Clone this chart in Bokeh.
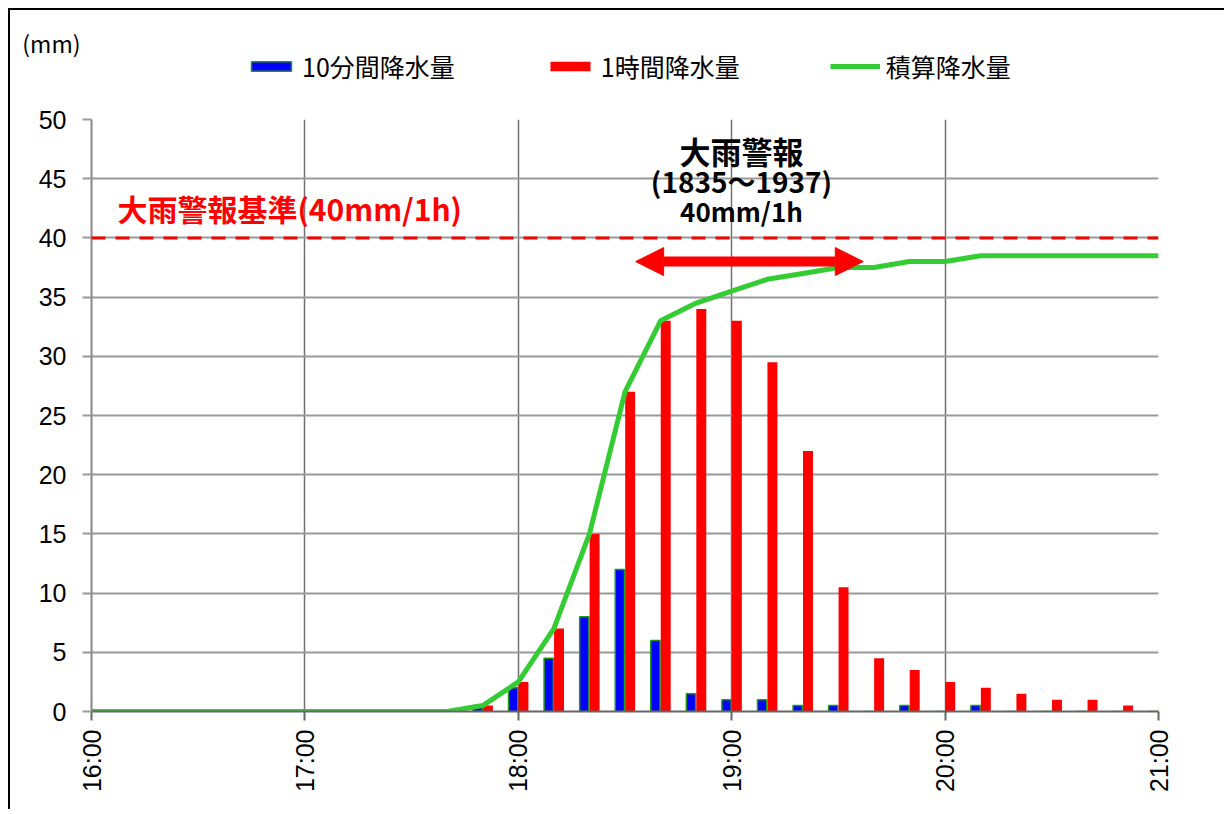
import math
from bokeh.plotting import figure
from bokeh.layouts import column
from bokeh.models import (Range1d, FixedTicker, Span, Label, Arrow, NormalHead,
                          Legend, LegendItem, ColumnDataSource)
from bokeh.transform import dodge
from bokeh.embed import file_html
from bokeh.resources import INLINE

# ---------------- data ----------------
times = ["16:00", "16:10", "16:20", "16:30", "16:40", "16:50",
         "17:00", "17:10", "17:20", "17:30", "17:40", "17:50",
         "18:00", "18:10", "18:20", "18:30", "18:40", "18:50",
         "19:00", "19:10", "19:20", "19:30", "19:40", "19:50",
         "20:00", "20:10", "20:20", "20:30", "20:40", "20:50",
         "21:00"]
rain_10min = [0, 0, 0, 0, 0, 0,
              0, 0, 0, 0, 0, 0.5,
              2, 4.5, 8, 12, 6, 1.5,
              1, 1, 0.5, 0.5, 0, 0.5,
              0, 0.5, 0, 0, 0, 0,
              0]
rain_1h = [0, 0, 0, 0, 0, 0,
           0, 0, 0, 0, 0, 0.5,
           2.5, 7, 15, 27, 33, 34,
           33, 29.5, 22, 10.5, 4.5, 3.5,
           2.5, 2, 1.5, 1, 1, 0.5,
           0.5]
rain_total = [0, 0, 0, 0, 0, 0,
              0, 0, 0, 0, 0, 0.5,
              2.5, 7, 15, 27, 33, 34.5,
              35.5, 36.5, 37, 37.5, 37.5, 38,
              38, 38.5, 38.5, 38.5, 38.5, 38.5,
              38.5]
hour_ticks = ["16:00", "17:00", "18:00", "19:00", "20:00", "21:00"]
y_ticks = [0, 5, 10, 15, 20, 25, 30, 35, 40, 45, 50]
series_names = ["10分間降水量", "1時間降水量", "積算降水量"]
threshold = 40
threshold_label = "大雨警報基準(40mm/1h)"
warning_lines = ["大雨警報", "(1835～1937)", "40mm/1h"]
arrow_times = ["18:33", "19:37"]
arrow_level = 38
unit_label = "(mm)"


def to_min(t):
    h, m = t.split(":")
    return int(h) * 60 + int(m) - 16 * 60


x = [to_min(t) for t in times]
src = ColumnDataSource(dict(x=x, r10=rain_10min, r1h=rain_1h, tot=rain_total))

JP = "Noto Sans CJK JP"
NUM = "Liberation Sans"

BLUE, BLUE_EDGE, RED, GREEN = "#0000ff", "#1a9a1a", "#ff0000", "#33cc33"

# ---------------- header strip (unit + legend) ----------------
# The strip's frame is aligned with the main chart's frame by the column layout.
TOP_H = 100
UNIT_POS = -1042  # strip coordinates: -1000 at the strip's top, -1100 at its bottom
top = figure(frame_width=1067, height=TOP_H, x_range=Range1d(0, 300), y_range=Range1d(-1100, -1000),
             x_axis_type=None, output_backend="svg", toolbar_location=None,
             min_border_left=91, min_border_right=66, min_border_top=0, min_border_bottom=0)
top.grid.visible = False
top.outline_line_color = None
top.background_fill_color = None
top.border_fill_color = None
top.yaxis.ticker = FixedTicker(ticks=[UNIT_POS])
top.yaxis.major_label_overrides = {UNIT_POS: unit_label}
top.yaxis.axis_line_color = None
top.yaxis.major_tick_line_color = None
top.yaxis.minor_tick_line_color = None
top.yaxis.major_tick_out = 0
top.yaxis.major_label_standoff = 11
top.yaxis.major_label_text_font = JP
top.yaxis.major_label_text_font_size = "23px"
top.yaxis.major_label_text_color = "black"

# legend proxies: same series and styles, not drawn in the strip itself
g10 = top.vbar(x="x", top="r10", width=2.6, source=src, fill_color=BLUE,
               line_color=BLUE_EDGE, line_width=1.5, visible=False)
g1h = top.vbar(x="x", top="r1h", width=2.8, source=src, fill_color=RED, line_color=None,
               visible=False)
gln = top.line(x="x", y="tot", source=src, line_color=GREEN, line_width=5, visible=False)

legend = Legend(items=[LegendItem(label=series_names[0], renderers=[g10]),
                       LegendItem(label=series_names[1], renderers=[g1h]),
                       LegendItem(label=series_names[2], renderers=[gln])],
                orientation="horizontal", location=(155, 16),
                glyph_width=50, glyph_height=12, label_standoff=6, spacing=90,
                padding=0, margin=0, border_line_color=None,
                background_fill_alpha=0, inactive_fill_alpha=0,
                label_text_font=JP, label_text_font_size="25px",
                label_text_color="black")
top.add_layout(legend, "center")

# ---------------- main chart ----------------
p = figure(frame_width=1067, frame_height=592,
           min_border_left=91, min_border_top=19,
           min_border_right=66, min_border_bottom=98,
           x_range=Range1d(0, 300), y_range=Range1d(0, 50),
           output_backend="svg", toolbar_location=None)
p.border_fill_color = None
p.outline_line_color = None
p.background_fill_color = "white"

p.xgrid.grid_line_color = "#707070"
p.xgrid.grid_line_width = 1.5
p.ygrid.grid_line_color = "#999999"
p.ygrid.grid_line_width = 2

hour_pos = [to_min(t) for t in hour_ticks]
p.xaxis.ticker = FixedTicker(ticks=hour_pos)
p.xaxis.major_label_overrides = {pos: lab for pos, lab in zip(hour_pos, hour_ticks)}
p.xaxis.major_label_orientation = math.pi / 2
p.xaxis.major_label_standoff = 9
p.xaxis.major_tick_out = 9
p.xaxis.major_tick_in = 0
p.xaxis.minor_tick_line_color = None
p.xaxis.axis_line_color = "#666666"
p.xaxis.axis_line_width = 2
p.xaxis.major_tick_line_color = "#666666"
p.xaxis.major_tick_line_width = 2
p.xaxis.major_label_text_font = NUM
p.xaxis.major_label_text_font_size = "25px"
p.xaxis.major_label_text_color = "black"

p.yaxis.ticker = FixedTicker(ticks=y_ticks)
p.yaxis.major_label_standoff = 16
p.yaxis.major_tick_out = 9
p.yaxis.major_tick_in = 0
p.yaxis.minor_tick_line_color = None
p.yaxis.axis_line_color = "#888888"
p.yaxis.axis_line_width = 2
p.yaxis.major_tick_line_color = "#999999"
p.yaxis.major_tick_line_width = 2
p.yaxis.major_label_text_font = NUM
p.yaxis.major_label_text_font_size = "25px"
p.yaxis.major_label_text_color = "black"

p.add_layout(Span(location=threshold, dimension="width", line_color=RED,
                  line_width=3, line_dash="14 10"))

b10 = p.vbar(x=dodge("x", -1.45, range=p.x_range), top="r10", width=2.6, bottom=0,
             source=src, fill_color=BLUE, line_color=BLUE_EDGE, line_width=1.5)
b1h = p.vbar(x=dodge("x", 1.45, range=p.x_range), top="r1h", width=2.8, bottom=0,
             source=src, fill_color=RED, line_color=None)
ln = p.line(x="x", y="tot", source=src, line_color=GREEN, line_width=5)

a0, a1 = [to_min(t) for t in arrow_times]
p.add_layout(Arrow(x_start=a0, y_start=arrow_level, x_end=a1, y_end=arrow_level,
                   line_color=RED, line_width=10,
                   start=NormalHead(size=28, fill_color=RED, line_color=RED, line_width=1),
                   end=NormalHead(size=28, fill_color=RED, line_color=RED, line_width=1)))

p.add_layout(Label(x=0, y=threshold, x_offset=26, y_offset=30, text=threshold_label,
                   text_font=JP, text_font_size="30px", text_font_style="bold",
                   text_color=RED, text_align="left", text_baseline="middle"))
mid = (a0 + a1) / 2
warn_sizes = ["31px", "28px", "26px"]
for i, line in enumerate(warning_lines):
    p.add_layout(Label(x=mid, y=threshold, x_offset=-8, y_offset=87 - 30 * i, text=line,
                       text_font=JP, text_font_size=warn_sizes[i], text_font_style="bold",
                       text_color="black", text_align="center", text_baseline="middle"))

layout = column(top, p, spacing=0,
                styles={"box-shadow": "inset 8px 8px 0 0 #ffffff, inset 10px 10px 0 0 #000000"})

open("out.html", "w").write(file_html(layout, INLINE))
